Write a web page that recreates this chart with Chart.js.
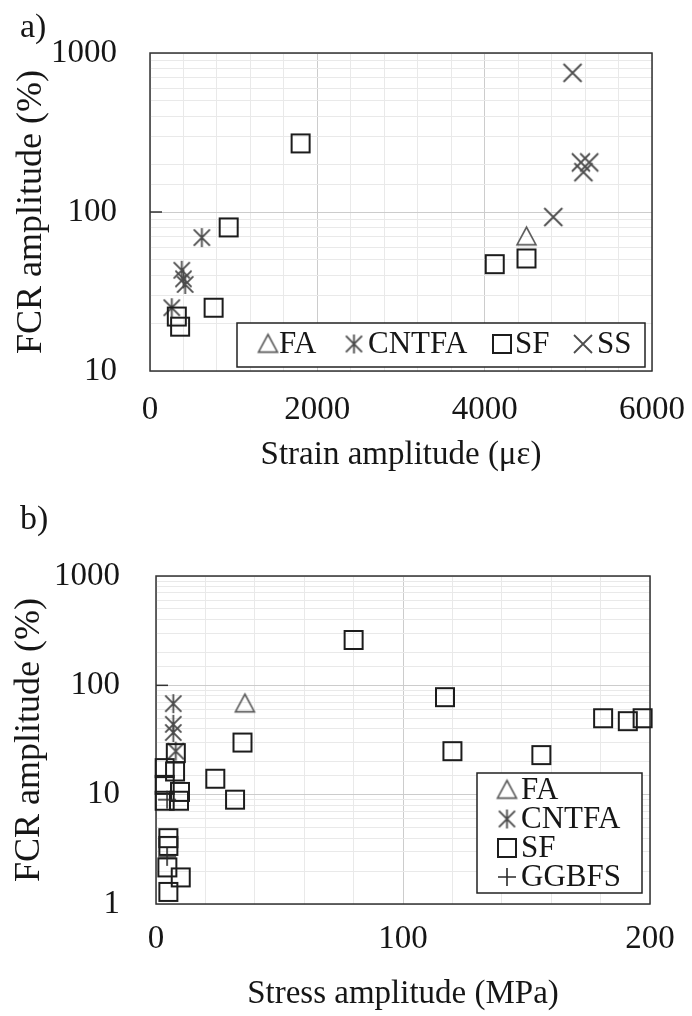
<!DOCTYPE html>
<html>
<head>
<meta charset="utf-8">
<script src="https://cdn.jsdelivr.net/npm/chart.js@4/dist/chart.umd.min.js"></script>
<style>
  html, body { margin: 0; padding: 0; background: #fff; }
  #wrapA { position: absolute; left: 0; top: 0; width: 692px; height: 490px; }
  #wrapB { position: absolute; left: 0; top: 490px; width: 692px; height: 526px; }
</style>
</head>
<body>
<div id="wrapA"><canvas id="chartA" width="692" height="490"></canvas></div>
<div id="wrapB"><canvas id="chartB" width="692" height="526"></canvas></div>
<script>
// ---- a) FCR amplitude vs strain amplitude ----
const faStrain = [4500];
const faFcrA = [70];
const cntfaStrain = [260, 380, 400, 420, 620];
const cntfaFcrA = [25, 43, 38, 35, 69];
const sfStrain = [320, 360, 760, 940, 1800, 4120, 4500];
const sfFcrA = [22, 19, 25, 80, 270, 47, 51];
const ssStrain = [4820, 5050, 5150, 5250, 5180];
const ssFcrA = [93, 750, 205, 205, 178];

// ---- b) FCR amplitude vs stress amplitude ----
const faStress = [36];
const faFcrB = [68];
const cntfaStress = [7, 7, 7, 8];
const cntfaFcrB = [68, 44, 37, 25];
const sfStress = [80, 117, 120, 156, 181, 191, 197, 35, 24, 32,
                  8, 7.7, 3.5, 3.5, 9.7, 3.5, 9.3, 5, 5, 4.6, 10, 5];
const sfFcrB = [260, 78, 25, 23, 50, 47, 50, 30, 14, 9,
                24, 16.3, 17.5, 12.3, 10.6, 8.8, 8.8, 4.0, 3.4, 2.16, 1.75, 1.29];
const ggbfsStress = [4.5, 4.5];
const ggbfsFcrB = [9, 2.7];

const strainTicks = [0, 2000, 4000, 6000];
const stressTicks = [0, 100, 200];

const FONT = "'Liberation Serif', 'Times New Roman', serif";
const TEXT = '#161616';

function marker(kind, size, color, lw) {
  const pad = 3;
  const c = document.createElement('canvas');
  c.width = c.height = size + pad * 2;
  const g = c.getContext('2d');
  const h = size / 2, m = c.width / 2;
  g.strokeStyle = color;
  g.lineWidth = lw;
  g.beginPath();
  if (kind === 'square') {
    g.rect(m - h, m - h, size, size);
  } else if (kind === 'triangle') {
    g.moveTo(m, m - h);
    g.lineTo(m + h, m + h * 0.85);
    g.lineTo(m - h, m + h * 0.85);
    g.closePath();
  } else if (kind === 'cross') {
    g.moveTo(m - h, m - h); g.lineTo(m + h, m + h);
    g.moveTo(m + h, m - h); g.lineTo(m - h, m + h);
  } else if (kind === 'star') {
    g.moveTo(m - h * 0.85, m - h * 0.85); g.lineTo(m + h * 0.85, m + h * 0.85);
    g.moveTo(m + h * 0.85, m - h * 0.85); g.lineTo(m - h * 0.85, m + h * 0.85);
    g.moveTo(m, m - h); g.lineTo(m, m + h);
  } else if (kind === 'plus') {
    g.moveTo(m - h, m); g.lineTo(m + h, m);
    g.moveTo(m, m - h); g.lineTo(m, m + h);
  }
  g.stroke();
  return c;
}

const mTri = marker('triangle', 19, '#5a5a5a', 1.6);
const mStar = marker('star', 19, '#4a4a4a', 1.8);
const mSquare = marker('square', 18, '#1c1c1c', 2);
const mCross = marker('cross', 18, '#4d4d4d', 1.8);
const mPlus = marker('plus', 18, '#2a2a2a', 1.6);

function pts(xs, ys) {
  return xs.map((x, i) => ({ x: x, y: ys[i] }));
}

function ds(label, xs, ys, img, order) {
  return {
    label: label,
    data: pts(xs, ys),
    pointStyle: img,
    pointRadius: 9,
    clip: false,
    order: order
  };
}

function isPow10(v) {
  const l = Math.log10(v);
  return Math.abs(l - Math.round(l)) < 1e-9;
}

// plot frame plus Excel-style inward tick at 100
const framePlugin = {
  id: 'frame',
  beforeDatasetsDraw(chart) {
    const { ctx, chartArea: a } = chart;
    ctx.save();
    ctx.strokeStyle = '#333';
    ctx.lineWidth = 1.5;
    ctx.strokeRect(a.left, a.top, a.right - a.left, a.bottom - a.top);
    const y = chart.scales.y.getPixelForValue(100);
    ctx.beginPath();
    ctx.moveTo(a.left, y);
    ctx.lineTo(a.left + 12, y);
    ctx.stroke();
    ctx.restore();
  }
};

// legend drawn inside the plot, like the Excel original
const boxLegend = {
  id: 'boxLegend',
  afterDatasetsDraw(chart, args, opts) {
    const ctx = chart.ctx;
    ctx.save();
    ctx.fillStyle = '#fff';
    ctx.fillRect(opts.box[0], opts.box[1], opts.box[2], opts.box[3]);
    ctx.strokeStyle = '#222';
    ctx.lineWidth = 1.5;
    ctx.strokeRect(opts.box[0], opts.box[1], opts.box[2], opts.box[3]);
    ctx.font = opts.fontSize + 'px ' + FONT;
    ctx.fillStyle = TEXT;
    ctx.textBaseline = 'middle';
    chart.data.datasets.forEach((d, i) => {
      const it = opts.items[i];
      const img = d.pointStyle;
      ctx.drawImage(img, it[0] - img.width / 2, it[1] - img.height / 2);
      ctx.fillText(d.label, it[2], it[1] + 1);
    });
    ctx.restore();
  }
};

const panelLabel = {
  id: 'panelLabel',
  afterDraw(chart, args, opts) {
    const ctx = chart.ctx;
    ctx.save();
    ctx.font = '34px ' + FONT;
    ctx.fillStyle = TEXT;
    ctx.textBaseline = 'middle';
    ctx.fillText(opts.text, opts.x, opts.y);
    ctx.restore();
  }
};

function makeOptions(cfg) {
  return {
    responsive: false,
    animation: false,
    events: [],
    layout: { padding: { top: cfg.padTop, right: cfg.padRight, left: 0, bottom: 0 } },
    plugins: {
      legend: { display: false },
      tooltip: { enabled: false },
      boxLegend: cfg.legend,
      panelLabel: cfg.panel
    },
    scales: {
      x: {
        type: 'linear',
        min: cfg.xMin,
        max: cfg.xMax,
        afterFit: s => {
          s.height = cfg.xHeight;
          // let the last tick label hang into the right margin
          s.paddingLeft = 0;
          s.paddingRight = 0;
        },
        grid: {
          drawTicks: false,
          lineWidth: 1,
          color: c => (c.tick && cfg.xTicks.includes(c.tick.value)) ? '#cccccc' : '#e9e9e9'
        },
        border: { display: false },
        ticks: {
          stepSize: cfg.xStep,
          autoSkip: false,
          maxRotation: 0,
          padding: cfg.xTickPad,
          color: TEXT,
          font: { family: FONT, size: 33 },
          callback: v => cfg.xTicks.includes(v) ? String(v) : ''
        },
        title: {
          display: true,
          text: cfg.xTitle,
          color: TEXT,
          font: { family: FONT, size: 33 },
          padding: { top: 0, bottom: cfg.xTitlePad }
        }
      },
      y: {
        type: 'logarithmic',
        min: cfg.yMin,
        max: 1000,
        afterFit: s => { s.width = cfg.yWidth; },
        grid: {
          drawTicks: false,
          lineWidth: 1,
          color: c => (c.tick && isPow10(c.tick.value)) ? '#cccccc' : '#e9e9e9'
        },
        border: { display: false },
        ticks: {
          autoSkip: false,
          padding: cfg.yTickPad,
          color: TEXT,
          font: { family: FONT, size: 33 },
          callback: v => isPow10(v) ? String(Math.round(v)) : ''
        },
        title: {
          display: true,
          text: 'FCR amplitude (%)',
          color: TEXT,
          font: { family: FONT, size: 36 },
          padding: { top: cfg.yTitlePad, bottom: 0 }
        }
      }
    }
  };
}

new Chart(document.getElementById('chartA'), {
  type: 'scatter',
  data: {
    datasets: [
      ds('FA', faStrain, faFcrA, mTri, 4),
      ds('CNTFA', cntfaStrain, cntfaFcrA, mStar, 3),
      ds('SF', sfStrain, sfFcrA, mSquare, 2),
      ds('SS', ssStrain, ssFcrA, mCross, 1)
    ]
  },
  options: makeOptions({
    padTop: 53, padRight: 40,
    xMin: 0, xMax: 6000, xStep: 400, xTicks: strainTicks,
    xHeight: 119, xTickPad: 20, xTitle: 'Strain amplitude (\u03bc\u03b5)', xTitlePad: 15,
    yMin: 10, yWidth: 150, yTickPad: 33, yTitlePad: 10,
    legend: {
      box: [237, 323, 408, 44], fontSize: 31,
      items: [[268, 344, 279], [354, 344, 368], [502, 344, 515], [583, 344, 597]]
    },
    panel: { text: 'a)', x: 20, y: 28 }
  }),
  plugins: [framePlugin, boxLegend, panelLabel]
});

new Chart(document.getElementById('chartB'), {
  type: 'scatter',
  data: {
    datasets: [
      ds('FA', faStress, faFcrB, mTri, 4),
      ds('CNTFA', cntfaStress, cntfaFcrB, mStar, 3),
      ds('SF', sfStress, sfFcrB, mSquare, 2),
      ds('GGBFS', ggbfsStress, ggbfsFcrB, mPlus, 1)
    ]
  },
  options: makeOptions({
    padTop: 86, padRight: 42,
    xMin: 0, xMax: 200, xStep: 20, xTicks: stressTicks,
    xHeight: 112, xTickPad: 16, xTitle: 'Stress amplitude (MPa)', xTitlePad: 2,
    yMin: 1, yWidth: 156, yTickPad: 36, yTitlePad: 8,
    legend: {
      box: [477, 283, 165, 120], fontSize: 31,
      items: [[507, 300, 521], [507, 329, 521], [507, 358, 521], [507, 387, 521]]
    },
    panel: { text: 'b)', x: 20, y: 30 }
  }),
  plugins: [framePlugin, boxLegend, panelLabel]
});
</script>
</body>
</html>
